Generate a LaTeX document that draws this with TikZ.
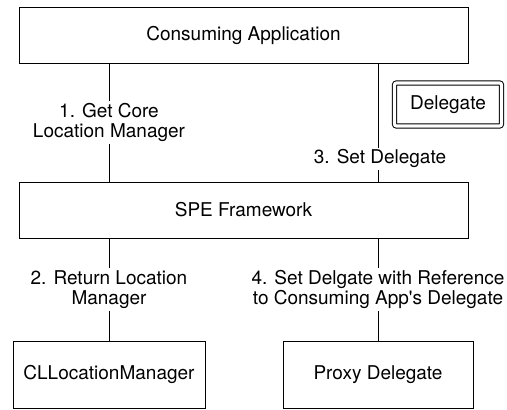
\documentclass[tikz,border=0pt]{standalone}
\usepackage{fontspec}
\setmainfont{TeX Gyre Heros}
\begin{document}
\begin{tikzpicture}[x=1pt,y=-1pt,
  box/.style={draw,line width=1pt,rectangle,inner sep=0pt,font=\fontsize{19}{20.5}\selectfont},
  lbl/.style={fill=white,inner sep=2pt,align=center,font=\fontsize{19}{20.5}\selectfont},
  conn/.style={line width=1pt}]
\useasboundingbox (0,0) rectangle (507,410);
\node[box,minimum width=449pt,minimum height=56pt] (app) at (243.5,35) {Consuming Application};
\node[box,minimum width=449pt,minimum height=56pt] (spe) at (243.5,210) {SPE Framework};
\node[box,minimum width=192pt,minimum height=67pt] (clm) at (109,374.5) {CLLocationManager};
\node[box,minimum width=190pt,minimum height=67pt] (proxy) at (378,374.5) {Proxy Delegate};
\node[box,double,double distance=3.2pt,rounded corners=2pt,minimum width=107pt,minimum height=43pt] (del) at (448,104.5) {Delegate};
\draw[conn] (app.south -| clm) -- node[lbl,pos=0.5] {1. Get Core\\Location Manager} (spe.north -| clm);
\draw[conn] (app.south -| proxy) -- node[lbl,pos=0.807,xshift=2pt] {3. Set Delegate} (spe.north -| proxy);
\draw[conn] (spe.south -| clm) -- node[lbl,pos=0.5] {2. Return Location\\Manager} (clm.north);
\draw[conn] (spe.south -| proxy) -- node[lbl,pos=0.5] {4. Set Delgate with Reference\\to Consuming App\textquotesingle s Delegate} (proxy.north);
\end{tikzpicture}
\end{document}
